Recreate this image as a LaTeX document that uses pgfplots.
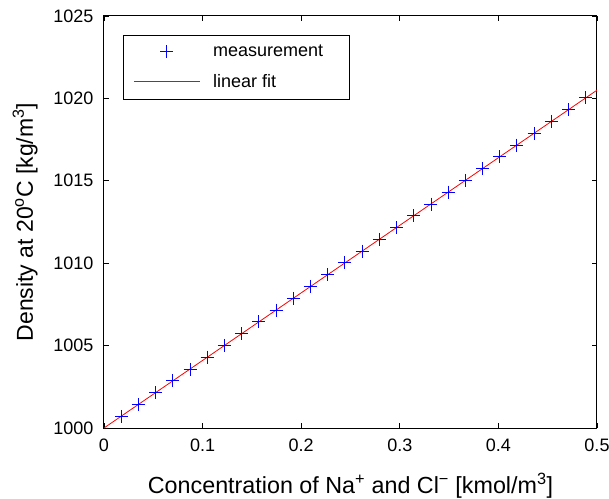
\documentclass[border=0pt]{standalone}
\usepackage{pgfplots}
\pgfplotsset{compat=1.18}
\usepackage{fontspec}
\setmainfont{Liberation Sans}
\pgfplotsset{
  mylegmark/.style={legend image code/.code={\draw[mark repeat=2,mark phase=2,#1] plot coordinates {(0bp,0bp)(33bp,0bp)(66bp,0bp)};}},
  mylegline/.style={legend image code/.code={\draw[#1] (0bp,0bp) -- (66bp,0bp);}},
}
\begin{document}
\begin{tikzpicture}
\useasboundingbox (-104bp,-71bp) rectangle (505bp,428bp);
\begin{axis}[
  at={(0,0)}, anchor=south west,
  scale only axis, width=493bp, height=412bp,
  xmin=0, xmax=0.5, ymin=1000, ymax=1025,
  xtick={0,0.1,0.2,0.3,0.4,0.5},
  ytick={1000,1005,1010,1015,1020,1025},
  tick align=inside, tickpos=both,
  major tick length=5bp,
  axis line style={black, line width=1bp},
  every tick/.style={black, line width=0.8bp},
  /pgf/number format/assume math mode=true,
  /pgf/number format/fixed,
  /pgf/number format/1000 sep={},
  ticklabel style={font=\fontsize{18bp}{21bp}\selectfont},
  xticklabel style={anchor=base, yshift=-23bp},
  yticklabel style={anchor=east, xshift=-7bp},
  xlabel={Concentration of Na\textsuperscript{+} and Cl\textsuperscript{−} [kmol/m\textsuperscript{3}]},
  ylabel={Density at 20\textsuperscript{o}C [kg/m\textsuperscript{3}]},
  every axis x label/.style={at={(axis description cs:0.5,-0.1578)}, anchor=base, font=\fontsize{23.3bp}{27bp}\selectfont},
  every axis y label/.style={at={(axis description cs:-0.160,0.5)}, rotate=90, anchor=center, font=\fontsize{23bp}{27bp}\selectfont},
  legend style={at={(axis description cs:0.0385,0.954)}, anchor=north west,
    draw=black, line width=0.8bp, font=\fontsize{18bp}{21bp}\selectfont,
    inner xsep=10bp, inner ysep=8bp, row sep=12bp,
    cells={anchor=west}},
  legend cell align=left,
]
\addplot[only marks, mark=+, mark size=6.5bp, blue, mark options={line width=0.9bp}, mylegmark]
coordinates {
(0.0175,1000.70) (0.0349,1001.42) (0.0524,1002.14) (0.0698,1002.86)
(0.0873,1003.58) (0.1047,1004.30) (0.1222,1005.01) (0.1396,1005.73)
(0.1571,1006.44) (0.1745,1007.16) (0.1920,1007.87) (0.2094,1008.59)
(0.2269,1009.30) (0.2443,1010.02) (0.2618,1010.73) (0.2792,1011.45)
(0.2967,1012.16) (0.3141,1012.88) (0.3316,1013.59) (0.3490,1014.31)
(0.3665,1015.02) (0.3839,1015.74) (0.4014,1016.45) (0.4188,1017.17)
(0.4363,1017.88) (0.4537,1018.60) (0.4712,1019.31) (0.4886,1020.03)
};
\addlegendentry{\hspace{11bp}measurement\kern14bp\mbox{}}
\addplot[red, line width=0.8bp, mylegline]
coordinates {(0,1000) (0.5,1020.5)};
\addlegendentry{\hspace{11bp}linear fit}
\end{axis}
\end{tikzpicture}
\end{document}
